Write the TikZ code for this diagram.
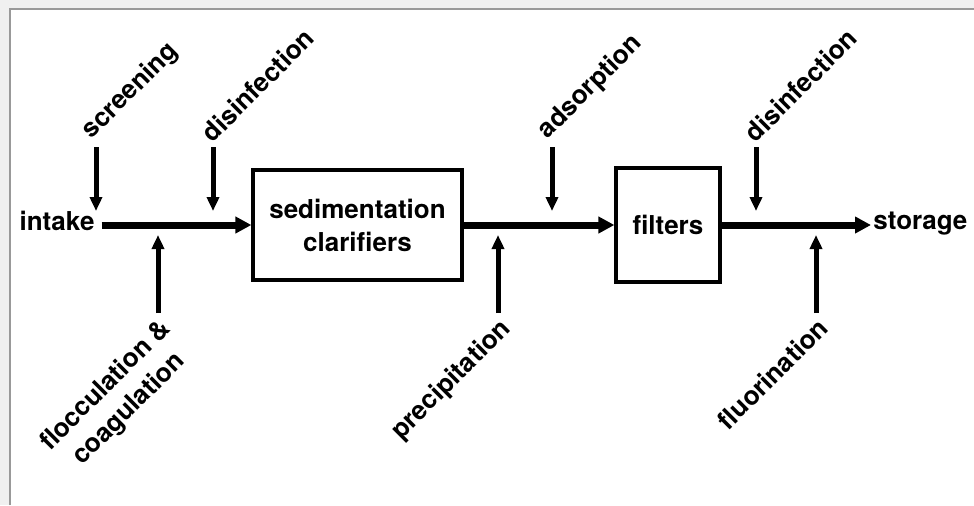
\documentclass[tikz,border=0pt]{standalone}
\usepackage{fontspec}
\setmainfont{TeX Gyre Heros}
\usetikzlibrary{arrows.meta}

\begin{document}
\begin{tikzpicture}[x=0.5pt, y=-0.5pt,
    font=\fontsize{13}{16.5}\selectfont\bfseries,
    flow/.style={line width=3.5pt, -{Triangle[length=8pt,width=8pt]}},
    feed/.style={line width=2.5pt, -{Triangle[length=7pt,width=6pt]}},
    unit/.style={draw, line width=1.6pt, inner sep=0pt, align=center},
    tag/.style={rotate=45, inner sep=1pt, align=center}]
    \useasboundingbox (0,0) rectangle (974,505);
    \fill[black!6] (0,0) rectangle (974,505);
    \fill[white] (10,9) rectangle (974,505);
    \draw[black!40, line width=1pt] (10,505) -- (10,9) -- (974,9);
    % main line
    \node (intake) at (57,221) {intake};
    \node[unit, minimum width=104.5pt, minimum height=55pt] (sedim) at (357.5,225) {sedimentation\\clarifiers};
    \node[unit, minimum width=52pt, minimum height=57pt] (filters) at (668,225) {filters};
    \node[anchor=west, inner sep=1pt] (storage) at (871,224) {storage};
    \draw[flow] (intake.east |- sedim.west) -- (sedim.west);
    \draw[flow] (sedim.east) -- (filters.west);
    \draw[flow] (filters.east) -- (storage.west |- filters.east);
    % additions from above
    \foreach \x/\lbl [count=\i] in {96/screening, 213/disinfection, 552/adsorption, 756/disinfection}{
        \coordinate (up\i) at (\x,147);
        \coordinate (upend\i) at (\x,211);
        \draw[feed] (up\i) -- (upend\i);
        \node[tag, anchor=south west] (uplbl\i) at (up\i) {\lbl};
    }
    % additions from below
    \foreach \x/\lbl [count=\i] in {158/{flocculation \&\\coagulation}, 498/precipitation, 816/fluorination}{
        \coordinate (dn\i) at (\x,313);
        \coordinate (dnend\i) at (\x,235);
        \draw[feed] (dn\i) -- (dnend\i);
        \node[tag, anchor=north east] (dnlbl\i) at (dn\i) {\lbl};
    }
\end{tikzpicture}
\end{document}
